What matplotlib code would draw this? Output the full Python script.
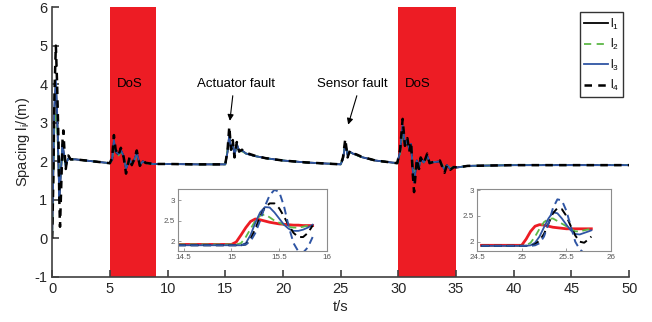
import numpy as np
import matplotlib.pyplot as plt

plt.rcParams['font.family'] = ['Liberation Sans', 'DejaVu Sans']
plt.rcParams['mathtext.default'] = 'regular'
plt.rcParams['axes.unicode_minus'] = False

# main time axis and spacing of the four vehicles
t = [0, 0.1, 0.2, 0.32, 0.43, 0.55, 0.62, 0.68, 0.78, 0.9, 0.97, 1.06, 1.18, 1.27, 1.4, 1.6, 2.0, 3.5, 5.0,
     5.2, 5.35, 5.5, 5.75, 5.95, 6.2, 6.4, 6.7, 6.9, 7.1, 7.33, 7.6, 7.85, 8.1, 8.35, 8.7, 10, 12.5, 15.0,
     15.2, 15.35, 15.5, 15.65, 15.8, 16.0, 16.2, 16.45, 16.8, 17.5, 18.5, 20, 22, 25.0,
     25.2, 25.4, 25.6, 25.8, 26.05, 26.35, 26.8, 28, 29.9,
     30.15, 30.37, 30.57, 30.78, 30.95, 31.1, 31.24, 31.36, 31.6, 31.79, 31.93, 32.2, 32.5, 32.7,
     33.2, 33.6, 34.0, 34.2, 34.5, 34.8, 35.1, 36, 40, 45, 50]

l1 = [0.05, 1.7, 3.4, 4.0, 3.2, 1.9, 1.1, 1.35, 1.85, 2.4, 2.28, 2.08, 1.87, 1.99, 2.07, 2.05, 2.05, 2.0, 1.95,
      2.04, 2.52, 2.24, 2.17, 2.29, 2.12, 1.81, 2.05, 1.93, 2.02, 2.21, 1.9, 2.0, 1.95, 1.95, 1.93, 1.93, 1.92, 1.92,
      2.26, 2.68, 2.3, 2.45, 2.16, 2.44, 2.27, 2.28, 2.2, 2.14, 2.08, 2.02, 1.97, 1.92,
      2.06, 2.46, 2.16, 2.24, 2.2, 2.17, 2.11, 2.02, 1.95,
      2.24, 2.9, 2.42, 2.54, 2.3, 2.44, 1.82, 1.48, 2.02, 1.85, 2.06, 1.97, 2.14, 1.97,
      1.98, 2.0, 1.79, 1.9, 1.8, 1.85, 1.84, 1.88, 1.9, 1.9, 1.9]

l2 = [0.1, 1.6, 2.9, 3.3, 2.9, 2.0, 1.4, 1.5, 1.9, 2.3, 2.2, 2.05, 1.9, 2.0, 2.06, 2.05, 2.05, 2.0, 1.95,
      2.02, 2.45, 2.22, 2.15, 2.25, 2.1, 1.85, 2.03, 1.94, 2.0, 2.18, 1.92, 1.99, 1.95, 1.94, 1.93, 1.93, 1.92, 1.92,
      2.3, 2.6, 2.35, 2.4, 2.2, 2.38, 2.26, 2.26, 2.2, 2.14, 2.08, 2.02, 1.97, 1.92,
      2.1, 2.42, 2.2, 2.22, 2.2, 2.16, 2.11, 2.02, 1.95,
      2.2, 2.8, 2.45, 2.5, 2.32, 2.4, 1.9, 1.6, 2.0, 1.88, 2.04, 1.97, 2.12, 1.97,
      1.98, 2.0, 1.82, 1.9, 1.82, 1.85, 1.84, 1.88, 1.9, 1.9, 1.9]

l3 = [0.1, 1.8, 3.5, 4.1, 3.3, 1.9, 1.0, 1.3, 1.85, 2.45, 2.3, 2.1, 1.85, 1.98, 2.08, 2.05, 2.05, 2.0, 1.95,
      2.05, 2.55, 2.25, 2.18, 2.3, 2.12, 1.8, 2.05, 1.93, 2.02, 2.22, 1.9, 2.0, 1.95, 1.95, 1.93, 1.93, 1.92, 1.92,
      2.25, 2.7, 2.3, 2.47, 2.15, 2.45, 2.27, 2.28, 2.2, 2.14, 2.08, 2.02, 1.97, 1.92,
      2.05, 2.47, 2.15, 2.25, 2.2, 2.17, 2.11, 2.02, 1.95,
      2.25, 2.94, 2.42, 2.55, 2.3, 2.45, 1.8, 1.45, 2.02, 1.85, 2.06, 1.97, 2.15, 1.97,
      1.98, 2.0, 1.78, 1.9, 1.8, 1.85, 1.84, 1.88, 1.9, 1.9, 1.9]

l4 = [0, 1.5, 3.8, 5.0, 4.0, 2.5, 1.0, 0.3, 1.3, 2.55, 2.8, 2.3, 1.8, 2.0, 2.15, 2.05, 2.05, 2.0, 1.95,
      2.1, 2.68, 2.3, 2.15, 2.35, 2.1, 1.68, 2.1, 1.9, 2.05, 2.28, 1.88, 2.02, 1.96, 1.95, 1.93, 1.93, 1.92, 1.92,
      2.3, 2.9, 2.3, 2.55, 2.1, 2.5, 2.25, 2.3, 2.22, 2.15, 2.08, 2.02, 1.97, 1.92,
      2.1, 2.58, 2.1, 2.28, 2.2, 2.18, 2.12, 2.02, 1.95,
      2.3, 3.1, 2.4, 2.6, 2.25, 2.5, 1.7, 1.2, 2.05, 1.8, 2.1, 1.95, 2.2, 1.95,
      2.0, 2.02, 1.7, 1.9, 1.78, 1.85, 1.84, 1.88, 1.9, 1.9, 1.9]

dos_windows = [(5, 9), (30, 35)]

# zoom near the actuator fault
ti1 = [14.44, 15.0, 15.05, 15.1, 15.15, 15.2, 15.25, 15.3, 15.35, 15.4, 15.45, 15.5, 15.55, 15.6, 15.65,
       15.7, 15.75, 15.8, 15.85]
i1_red = [1.92, 1.92, 1.98, 2.15, 2.33, 2.48, 2.54, 2.52, 2.49, 2.46, 2.44, 2.42, 2.41, 2.4, 2.39,
          2.39, 2.38, 2.38, 2.38]
i1_green = [1.92, 1.92, 1.92, 1.95, 2.1, 2.3, 2.5, 2.62, 2.65, 2.58, 2.5, 2.45, 2.4, 2.35, 2.33,
            2.33, 2.35, 2.38, 2.4]
i1_blue = [1.9, 1.9, 1.9, 1.9, 1.95, 2.15, 2.45, 2.7, 2.83, 2.82, 2.7, 2.55, 2.4, 2.3, 2.25,
           2.25, 2.28, 2.33, 2.4]
i1_black = [1.9, 1.9, 1.9, 1.9, 1.92, 2.05, 2.3, 2.6, 2.82, 2.92, 2.92, 2.8, 2.6, 2.38, 2.2,
            2.1, 2.1, 2.2, 2.38]
i1_bdash = [1.9, 1.9, 1.9, 1.9, 1.92, 2.0, 2.2, 2.5, 2.85, 3.12, 3.25, 3.2, 2.85, 2.35, 1.95,
            1.75, 1.72, 1.85, 2.1]

# zoom near the sensor fault
ti2 = [24.55, 25.0, 25.05, 25.1, 25.15, 25.2, 25.25, 25.3, 25.35, 25.4, 25.45, 25.5, 25.55, 25.6, 25.65,
       25.7, 25.75, 25.78]
i2_red = [1.93, 1.93, 2.05, 2.2, 2.3, 2.33, 2.32, 2.3, 2.28, 2.27, 2.26, 2.25, 2.25, 2.25, 2.25,
          2.25, 2.25, 2.25]
i2_green = [1.92, 1.92, 1.93, 1.98, 2.1, 2.25, 2.38, 2.44, 2.45, 2.4, 2.35, 2.3, 2.25, 2.2, 2.2,
            2.22, 2.24, 2.25]
i2_blue = [1.92, 1.92, 1.92, 1.93, 1.98, 2.1, 2.28, 2.45, 2.57, 2.55, 2.45, 2.33, 2.22, 2.15, 2.14,
           2.17, 2.2, 2.22]
i2_black = [1.92, 1.92, 1.92, 1.92, 1.95, 2.02, 2.15, 2.35, 2.55, 2.65, 2.63, 2.5, 2.3, 2.12, 2.0,
            1.98, 2.05, 2.1]
i2_bdash = [1.92, 1.92, 1.92, 1.92, 1.93, 1.97, 2.1, 2.35, 2.65, 2.82, 2.8, 2.6, 2.3, 2.0, 1.85,
            1.78, 1.75, 1.75]

RED = '#ED1C24'
BLUE = '#2F55A4'
GREEN = '#5DB847'
AX = '#404040'

fig = plt.figure(figsize=(6.52, 3.22), dpi=100)
ax = fig.add_axes([0.080, 0.140, 0.885, 0.838])

for a, b in dos_windows:
    ax.axvspan(a, b, color=RED, lw=0, zorder=0)

ax.plot(t, l1, color='black', lw=1.3, label='l$_1$')
ax.plot(t, l2, color=GREEN, lw=1.3, ls=(0, (4, 3)), label='l$_2$')
ax.plot(t, l3, color=BLUE, lw=1.3, label='l$_3$')
ax.plot(t, l4, color='black', lw=1.8, ls=(0, (3, 2.5)), label='l$_4$')

ax.set_xlim(0, 50)
ax.set_ylim(-1, 6)
ax.set_xticks(range(0, 51, 5))
ax.set_yticks(range(-1, 7))
ax.spines['top'].set_visible(False)
ax.spines['right'].set_visible(False)
for s in ['left', 'bottom']:
    ax.spines[s].set_color(AX)
    ax.spines[s].set_linewidth(1.2)
ax.tick_params(direction='in', length=5, width=1.2, color=AX, labelsize=10.5, labelcolor='#262626')
ax.set_xlabel('t/s', fontsize=10.5, color='#262626', labelpad=3)
ax.set_ylabel('Spacing l$_i$/(m)', fontsize=10.5, color='#262626', labelpad=2)

ax.text(6.75, 4.0, 'DoS', ha='center', va='center', fontsize=9.5)
ax.text(31.7, 4.0, 'DoS', ha='center', va='center', fontsize=9.5)
ax.text(15.9, 4.0, 'Actuator fault', ha='center', va='center', fontsize=9.5)
ax.text(26.05, 4.0, 'Sensor fault', ha='center', va='center', fontsize=9.5)
ax.annotate('', xy=(15.4, 3.05), xytext=(15.65, 3.7),
            arrowprops=dict(arrowstyle='-|>', color='black', lw=0.8, shrinkA=0, shrinkB=0, mutation_scale=9))
ax.annotate('', xy=(25.65, 2.95), xytext=(26.4, 3.7),
            arrowprops=dict(arrowstyle='-|>', color='black', lw=0.8, shrinkA=0, shrinkB=0, mutation_scale=9))

leg = ax.legend(loc='upper right', bbox_to_anchor=(0.99, 0.98), fontsize=8.5, frameon=True, fancybox=False,
                handlelength=2.0, handletextpad=0.2, borderpad=0.35, labelspacing=0.45, borderaxespad=0)
leg.get_frame().set_edgecolor('black')
leg.get_frame().set_linewidth(1.0)


def inset(rect, x, red, green, blue, black, bdash, xlim, ylim, xticks, xlabels):
    ia = fig.add_axes(rect)
    ia.plot(x, red, color=RED, lw=2.0)
    ia.plot(x, green, color=GREEN, lw=1.3, ls=(0, (4, 2.5)))
    ia.plot(x, blue, color=BLUE, lw=1.3)
    ia.plot(x, black, color='black', lw=1.4, ls=(0, (4, 2.5)))
    ia.plot(x, bdash, color=BLUE, lw=1.4, ls=(0, (4, 2.5)))
    ia.set_xlim(*xlim)
    ia.set_ylim(*ylim)
    ia.set_xticks(xticks)
    ia.set_xticklabels(xlabels)
    ia.set_yticks([2, 2.5, 3])
    ia.set_yticklabels(['2', '2.5', '3'])
    for s in ia.spines.values():
        s.set_color('#8c8c8c')
        s.set_linewidth(0.8)
    ia.tick_params(direction='in', length=2, width=0.6, color='#8c8c8c', labelsize=5.8,
                   labelcolor='#555555', pad=2)
    return ia


inset([0.273, 0.2205, 0.2285, 0.1925], ti1, i1_red, i1_green, i1_blue, i1_black, i1_bdash,
      (14.44, 16.0), (1.76, 3.27), [14.5, 15, 15.5, 16], ['14.5', '15', '15.5', '16'])
inset([0.7316, 0.2205, 0.2055, 0.1925], ti2, i2_red, i2_green, i2_blue, i2_black, i2_bdash,
      (24.5, 26.0), (1.82, 3.02), [24.5, 25, 25.5, 26], ['24.5', '25', '25.5', '26'])

fig.savefig('out.png', dpi=100)
